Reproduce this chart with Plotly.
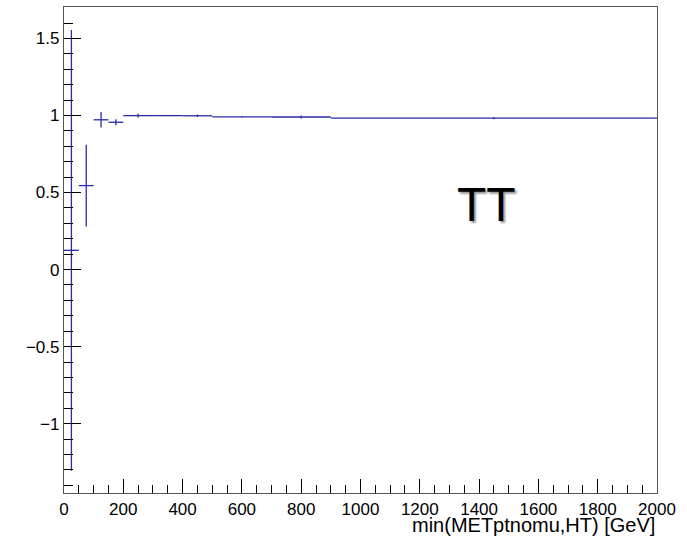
import plotly.graph_objects as go

# Data
bin_centers = [25, 75, 125, 175, 250, 350, 450, 600, 800, 1450]
bin_halfwidths = [25, 25, 25, 25, 50, 50, 50, 100, 100, 550]
ratio = [0.125, 0.545, 0.972, 0.956, 0.999, 0.999, 0.998, 0.991, 0.990, 0.983]
ratio_err = [1.43, 0.265, 0.05, 0.02, 0.012, 0.003, 0.008, 0.004, 0.01, 0.007]

x_title = "min(METptnomu,HT) [GeV]"
label = "TT"

line_col = "#2a2aa8"
font_family = "Liberation Sans, Arial, Helvetica, sans-serif"

fig = go.Figure()
fig.add_trace(go.Scatter(
    x=bin_centers, y=ratio, mode="markers",
    marker=dict(size=1, color="rgba(0,0,0,0)"),
    error_x=dict(type="data", array=bin_halfwidths, symmetric=True,
                 thickness=1.3, width=0, color=line_col),
    error_y=dict(type="data", array=ratio_err, symmetric=True,
                 thickness=1.3, width=0, color=line_col),
    showlegend=False, hoverinfo="skip",
))

fig.add_annotation(
    x=1426, y=0.425, xref="x", yref="y", text=label, showarrow=False,
    font=dict(family=font_family, size=48, color="black",
              shadow="2px 2px 2px #999"),
    xanchor="center", yanchor="middle",
)
fig.add_annotation(
    x=1, y=-0.0655, xref="paper", yref="paper", text=x_title, showarrow=False,
    font=dict(family=font_family, size=20, color="black"),
    xanchor="right", yanchor="middle",
)

axis_common = dict(
    showline=True, linecolor="#555", linewidth=1.3, mirror=True,
    showgrid=False, zeroline=False, ticks="inside", tickcolor="black",
    tickfont=dict(family=font_family, size=17, color="black"),
)
fig.update_xaxes(range=[0, 2000], dtick=200, tick0=0, ticklen=14,
                 minor=dict(dtick=50, ticklen=8, ticks="inside", tickcolor="black"),
                 **axis_common)
fig.update_yaxes(range=[-1.450, 1.704], dtick=0.5, tick0=0, ticklen=17,
                 minor=dict(dtick=0.1, ticklen=9, ticks="inside", tickcolor="black"),
                 **axis_common)

fig.update_layout(
    width=687, height=539,
    margin=dict(l=64, r=30, t=7, b=46),
    paper_bgcolor="white", plot_bgcolor="white",
    font=dict(family=font_family),
)
fig.write_html("out.html", config={"displayModeBar": False},
               post_script="document.body.style.margin='0';document.body.style.overflow='hidden';")
